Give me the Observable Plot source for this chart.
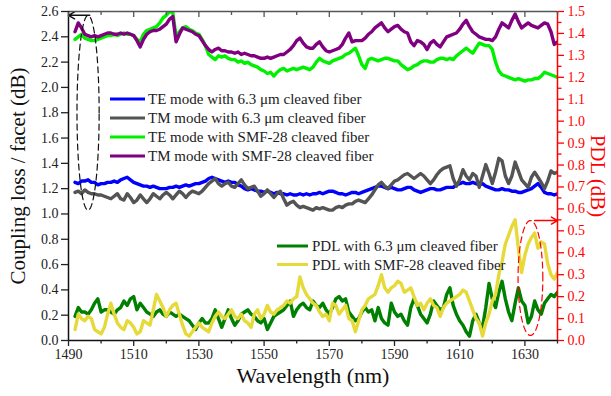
<!DOCTYPE html>
<html><head><meta charset="utf-8">
<script src="https://cdn.jsdelivr.net/npm/d3@7"></script>
<script src="https://cdn.jsdelivr.net/npm/@observablehq/plot@0.6"></script>
<style>body{margin:0;background:#fff} svg{display:block}</style>
</head><body><div id="chart"></div>
<script>
// wavelength grid (nm), one sample per nm from 1492 to 1640
const wavelengths = d3.range(1492, 1641);

// Coupling loss / facet (dB), left axis
const teMode63 = [
1.25,1.24,1.26,1.26,1.27,1.25,1.25,1.23,1.24,1.24,
1.25,1.25,1.26,1.25,1.27,1.28,1.29,1.27,1.25,1.24,
1.23,1.22,1.22,1.21,1.22,1.21,1.20,1.20,1.20,1.21,
1.21,1.22,1.21,1.22,1.23,1.22,1.23,1.24,1.24,1.25,
1.26,1.28,1.29,1.28,1.27,1.26,1.25,1.26,1.25,1.25,
1.23,1.22,1.20,1.19,1.20,1.19,1.18,1.18,1.17,1.18,
1.17,1.16,1.17,1.16,1.16,1.15,1.16,1.15,1.15,1.16,
1.15,1.16,1.15,1.16,1.16,1.17,1.16,1.17,1.18,1.18,
1.17,1.16,1.16,1.15,1.16,1.17,1.17,1.16,1.17,1.18,
1.19,1.20,1.21,1.22,1.22,1.21,1.20,1.21,1.20,1.19,
1.19,1.20,1.21,1.21,1.19,1.18,1.17,1.18,1.19,1.20,
1.20,1.19,1.19,1.20,1.21,1.21,1.21,1.23,1.24,1.25,
1.24,1.24,1.25,1.24,1.23,1.24,1.22,1.21,1.20,1.19,
1.19,1.20,1.19,1.19,1.18,1.18,1.17,1.17,1.18,1.19,
1.20,1.22,1.24,1.21,1.17,1.16,1.16,1.15,1.16];
const tmMode63 = [
1.17,1.18,1.16,1.19,1.17,1.16,1.16,1.15,1.15,1.14,
1.13,1.12,1.14,1.16,1.12,1.11,1.16,1.13,1.09,1.11,
1.15,1.12,1.09,1.12,1.16,1.14,1.12,1.15,1.17,1.15,
1.12,1.15,1.18,1.16,1.13,1.16,1.18,1.17,1.16,1.18,
1.21,1.24,1.26,1.28,1.24,1.22,1.24,1.25,1.22,1.21,
1.24,1.27,1.23,1.20,1.21,1.22,1.18,1.14,1.16,1.19,
1.16,1.13,1.16,1.18,1.12,1.07,1.09,1.10,1.07,1.05,
1.06,1.05,1.04,1.03,1.05,1.04,1.05,1.04,1.03,1.03,
1.05,1.06,1.05,1.07,1.08,1.08,1.10,1.11,1.10,1.09,
1.12,1.15,1.19,1.23,1.25,1.22,1.20,1.23,1.26,1.27,
1.29,1.31,1.32,1.30,1.28,1.30,1.32,1.30,1.27,1.24,
1.27,1.31,1.34,1.36,1.37,1.38,1.28,1.22,1.27,1.35,
1.30,1.27,1.32,1.30,1.21,1.30,1.39,1.32,1.24,1.33,
1.44,1.42,1.30,1.24,1.30,1.41,1.34,1.27,1.24,1.21,
1.29,1.33,1.29,1.25,1.20,1.26,1.34,1.32,1.33];
const teModeSMF = [
2.38,2.40,2.42,2.39,2.38,2.37,2.37,2.38,2.39,2.40,
2.41,2.41,2.42,2.41,2.42,2.43,2.42,2.42,2.41,2.38,
2.36,2.42,2.45,2.46,2.47,2.48,2.51,2.55,2.57,2.60,
2.59,2.40,2.44,2.47,2.48,2.46,2.45,2.43,2.42,2.38,
2.33,2.26,2.24,2.22,2.25,2.24,2.25,2.23,2.22,2.22,
2.20,2.21,2.19,2.20,2.18,2.17,2.16,2.14,2.13,2.11,
2.12,2.09,2.12,2.14,2.15,2.13,2.14,2.15,2.14,2.15,
2.16,2.15,2.14,2.16,2.20,2.23,2.21,2.20,2.19,2.21,
2.22,2.23,2.24,2.26,2.27,2.29,2.31,2.25,2.18,2.15,
2.22,2.23,2.22,2.21,2.22,2.23,2.23,2.22,2.21,2.21,
2.18,2.16,2.14,2.15,2.17,2.18,2.20,2.21,2.21,2.20,
2.20,2.22,2.23,2.23,2.22,2.23,2.22,2.25,2.27,2.29,
2.31,2.29,2.27,2.31,2.35,2.34,2.33,2.33,2.30,2.20,
2.13,2.10,2.09,2.08,2.07,2.06,2.07,2.06,2.05,2.06,
2.06,2.07,2.07,2.09,2.12,2.11,2.10,2.09,2.08];
const tmModeSMF = [
2.44,2.51,2.47,2.42,2.41,2.40,2.41,2.40,2.41,2.42,
2.43,2.43,2.42,2.42,2.43,2.42,2.43,2.42,2.41,2.37,
2.32,2.38,2.42,2.44,2.45,2.45,2.46,2.48,2.50,2.54,
2.56,2.36,2.42,2.47,2.46,2.45,2.44,2.42,2.41,2.37,
2.33,2.30,2.28,2.30,2.31,2.29,2.29,2.28,2.28,2.27,
2.28,2.26,2.27,2.26,2.25,2.25,2.24,2.23,2.23,2.24,
2.23,2.24,2.25,2.26,2.26,2.28,2.30,2.33,2.37,2.39,
2.35,2.32,2.31,2.31,2.34,2.36,2.32,2.29,2.28,2.29,
2.30,2.31,2.34,2.39,2.43,2.36,2.37,2.37,2.37,2.39,
2.42,2.44,2.47,2.49,2.51,2.47,2.44,2.46,2.48,2.49,
2.46,2.44,2.43,2.36,2.33,2.37,2.36,2.34,2.30,2.35,
2.37,2.34,2.32,2.36,2.40,2.41,2.42,2.43,2.46,2.50,
2.53,2.48,2.44,2.42,2.40,2.39,2.38,2.38,2.37,2.40,
2.46,2.51,2.49,2.47,2.53,2.58,2.52,2.47,2.49,2.51,
2.49,2.48,2.47,2.49,2.51,2.50,2.44,2.34,2.36];

// PDL (dB), right axis
const pdl63 = [
0.11,0.15,0.13,0.13,0.12,0.14,0.17,0.19,0.13,0.14,
0.14,0.13,0.12,0.14,0.15,0.18,0.16,0.19,0.20,0.14,
0.17,0.15,0.13,0.12,0.11,0.13,0.14,0.12,0.11,0.13,
0.12,0.11,0.12,0.11,0.10,0.09,0.07,0.05,0.08,0.10,
0.08,0.08,0.10,0.14,0.10,0.06,0.10,0.14,0.10,0.07,
0.09,0.12,0.13,0.14,0.12,0.11,0.09,0.08,0.10,0.05,
0.08,0.11,0.12,0.13,0.14,0.16,0.18,0.11,0.14,0.16,
0.17,0.15,0.14,0.18,0.16,0.15,0.17,0.14,0.12,0.15,
0.19,0.20,0.18,0.19,0.13,0.11,0.09,0.10,0.13,0.15,
0.13,0.14,0.09,0.15,0.10,0.08,0.07,0.17,0.13,0.11,
0.12,0.09,0.07,0.15,0.19,0.16,0.12,0.10,0.08,0.12,
0.18,0.16,0.14,0.15,0.21,0.24,0.16,0.12,0.09,0.07,
0.04,0.02,0.09,0.12,0.08,0.06,0.15,0.26,0.19,0.15,
0.22,0.27,0.19,0.13,0.09,0.17,0.24,0.18,0.16,0.08,
0.11,0.18,0.14,0.12,0.17,0.19,0.21,0.20,0.22];
const pdlSMF = [
0.05,0.12,0.10,0.09,0.11,0.10,0.05,0.04,0.03,0.06,
0.12,0.17,0.12,0.08,0.06,0.05,0.09,0.08,0.06,0.03,
0.04,0.09,0.08,0.07,0.14,0.21,0.18,0.15,0.11,0.14,
0.16,0.17,0.12,0.07,0.03,0.02,0.04,0.06,0.08,0.06,
0.05,0.04,0.08,0.11,0.13,0.11,0.10,0.12,0.14,0.11,
0.10,0.12,0.09,0.08,0.06,0.12,0.14,0.10,0.12,0.16,
0.13,0.12,0.14,0.15,0.16,0.18,0.17,0.19,0.20,0.29,
0.24,0.21,0.19,0.17,0.16,0.13,0.11,0.12,0.09,0.17,
0.16,0.12,0.14,0.16,0.10,0.09,0.04,0.09,0.14,0.16,
0.19,0.20,0.21,0.25,0.30,0.24,0.22,0.24,0.25,0.27,
0.26,0.22,0.23,0.24,0.20,0.16,0.17,0.14,0.17,0.19,
0.16,0.15,0.11,0.15,0.17,0.18,0.19,0.20,0.21,0.23,
0.22,0.18,0.14,0.10,0.08,0.02,0.08,0.12,0.18,0.21,
0.30,0.36,0.44,0.48,0.52,0.55,0.42,0.31,0.39,0.44,
0.47,0.49,0.42,0.45,0.44,0.35,0.30,0.28,0.31];

// axis ticks
const xMajorTicks = [1490, 1510, 1530, 1550, 1570, 1590, 1610, 1630];
const xMinorTicks = [1500, 1520, 1540, 1560, 1580, 1600, 1620, 1640];
const yLeftTicks = [0, 0.2, 0.4, 0.6, 0.8, 1.0, 1.2, 1.4, 1.6, 1.8, 2.0, 2.2, 2.4, 2.6];
const yRightTicks = [0, 0.1, 0.2, 0.3, 0.4, 0.5, 0.6, 0.7, 0.8, 0.9, 1.0, 1.1, 1.2, 1.3, 1.4, 1.5];
const yRightMinor = [0.05, 0.15, 0.25, 0.35, 0.45, 0.55, 0.65, 0.75, 0.85, 0.95, 1.05, 1.15, 1.25, 1.35, 1.45];

const seriesNames = ["TE mode with 6.3 μm cleaved fiber", "TM mode with 6.3 μm cleaved fiber",
  "TE mode with SMF-28 cleaved fiber", "TM mode with SMF-28 cleaved fiber"];
const pdlNames = ["PDL with 6.3 μm cleaved fiber", "PDL with SMF-28 cleaved fiber"];
const colors = ["#0000ff", "#545454", "#00f000", "#800080"];
const pdlColors = ["#008000", "#e6da3a"];

// annotation ellipses (data units) and arrows
const ellipseLeft = {cx: 1496, cy: 1.80, rx: 3.4, ry: 0.77};       // left axis units
const ellipseRight = {cx: 1631.7, cy: 0.285, rx: 3.8, ry: 0.262};  // PDL units
const arrowLeft = {x1: 1496.5, x2: 1490, y: 2.57};
const arrowRight = {x1: 1633.0, x2: 1640, y: 0.547};

const FONT = '"Liberation Serif","Times New Roman",serif';
const K = 2.6 / 1.5; // PDL (right) -> left axis units
const toRows = (vals, s = 1) => vals.map((v, i) => ({wl: wavelengths[i], v: v * s}));
const angles = d3.range(0, 361, 4).map(a => a * Math.PI / 180);
const ell = (e, s) => angles.map(a => ({x: e.cx + e.rx * Math.cos(a), y: (e.cy + e.ry * Math.sin(a)) * s}));

const SW = 3.4;
const plot = Plot.plot({
  width: 611, height: 396,
  marginLeft: 68, marginRight: 54, marginTop: 11, marginBottom: 56,
  style: {fontFamily: FONT, fontSize: "14px", color: "#222", background: "#fff"},
  x: {domain: [1490, 1640]},
  y: {domain: [0, 2.6]},
  marks: [
    Plot.line(toRows(teMode63), {x: "wl", y: "v", stroke: colors[0], strokeWidth: SW, clip: true}),
    Plot.line(toRows(tmMode63), {x: "wl", y: "v", stroke: colors[1], strokeWidth: SW, clip: true}),
    Plot.line(toRows(teModeSMF), {x: "wl", y: "v", stroke: colors[2], strokeWidth: SW, clip: true}),
    Plot.line(toRows(tmModeSMF), {x: "wl", y: "v", stroke: colors[3], strokeWidth: SW, clip: true}),
    Plot.line(toRows(pdl63, K), {x: "wl", y: "v", stroke: pdlColors[0], strokeWidth: SW, clip: true}),
    Plot.line(toRows(pdlSMF, K), {x: "wl", y: "v", stroke: pdlColors[1], strokeWidth: SW, clip: true}),
    Plot.line(ell(ellipseLeft, 1), {x: "x", y: "y", stroke: "#111", strokeWidth: 1.2, strokeDasharray: "6,4"}),
    Plot.line(ell(ellipseRight, K), {x: "x", y: "y", stroke: "#ff0000", strokeWidth: 1.2, strokeDasharray: "6,4"}),
    Plot.arrow([arrowLeft], {x1: "x1", x2: "x2", y1: d => d.y, y2: d => d.y, stroke: "#111", strokeWidth: 1.5, headLength: 7}),
    Plot.arrow([arrowRight], {x1: "x1", x2: "x2", y1: d => d.y * K, y2: d => d.y * K, stroke: "#ff0000", strokeWidth: 1.5, headLength: 7}),
    // frame lines
    Plot.ruleY([2.6], {stroke: "#555", strokeWidth: 1.5}),
    Plot.ruleY([0], {stroke: "#111", strokeWidth: 1.5}),
    Plot.ruleX([1490], {stroke: "#111", strokeWidth: 1.5}),
    Plot.ruleX([1640], {stroke: "#ff0000", strokeWidth: 1.5}),
    // axes
    Plot.axisX({ticks: xMajorTicks, tickSize: 6, tickPadding: 3, tickFormat: d => String(d), label: null, strokeWidth: 1.3, fill: "#222", fontFamily: FONT, fontSize: 14}),
    Plot.axisX({ticks: xMinorTicks, tickSize: 3.5, fill: "none", label: null, strokeWidth: 1.3}),
    Plot.axisX({anchor: "top", ticks: xMajorTicks, tickSize: -5, fill: "none", label: null, stroke: "#555", strokeWidth: 1.3}),
    Plot.axisX({anchor: "top", ticks: xMinorTicks, tickSize: -3, fill: "none", label: null, stroke: "#555", strokeWidth: 1.3}),
    Plot.axisY({ticks: yLeftTicks, tickSize: 7, tickPadding: 3, tickFormat: d => d.toFixed(1), label: null, strokeWidth: 1.3, fill: "#222", fontFamily: FONT, fontSize: 14}),
    Plot.axisY({anchor: "right", ticks: yRightTicks.map(t => t * K), tickSize: 6, tickPadding: 4,
      tickFormat: d => (d / K).toFixed(1), label: null, stroke: "#ff0000", fill: "#ff0000", strokeWidth: 1.3, fontFamily: FONT, fontSize: 14}),
    Plot.axisY({anchor: "right", ticks: yRightMinor.map(t => t * K), tickSize: 3.5, fill: "none", label: null, stroke: "#ff0000", strokeWidth: 1.3}),
    // axis titles
    Plot.text(["Coupling loss / facet (dB)"], {frameAnchor: "left", textAnchor: "middle", dx: -50, rotate: -90, fontSize: 21, fill: "#111", fontFamily: FONT}),
    Plot.text(["Wavelength (nm)"], {frameAnchor: "bottom", textAnchor: "middle", dy: 42, fontSize: 22, fill: "#111", fontFamily: FONT}),
    Plot.text(["PDL (dB)"], {frameAnchor: "right", textAnchor: "middle", dx: 40, rotate: 90, fontSize: 21, fill: "#ff0000", fontFamily: FONT})
  ]
});

// legends
const svg = d3.select(plot);
const lg = svg.append("g").attr("font-family", FONT).attr("font-size", 15).attr("fill", "#222").attr("text-anchor", "start");
seriesNames.forEach((name, i) => {
  const y = 99 + i * 19;
  lg.append("line").attr("x1", 110).attr("x2", 145).attr("y1", y).attr("y2", y).attr("stroke", colors[i]).attr("stroke-width", 3);
  lg.append("text").attr("x", 148).attr("y", y).attr("dy", "0.35em").attr("text-anchor", "start").text(name);
});
pdlNames.forEach((name, i) => {
  const y = 246 + i * 18.5;
  lg.append("line").attr("x1", 277).attr("x2", 308).attr("y1", y).attr("y2", y).attr("stroke", pdlColors[i]).attr("stroke-width", 3);
  lg.append("text").attr("x", 312).attr("y", y).attr("dy", "0.35em").attr("text-anchor", "start").text(name);
});

document.getElementById("chart").appendChild(plot);
</script>
</body></html>
